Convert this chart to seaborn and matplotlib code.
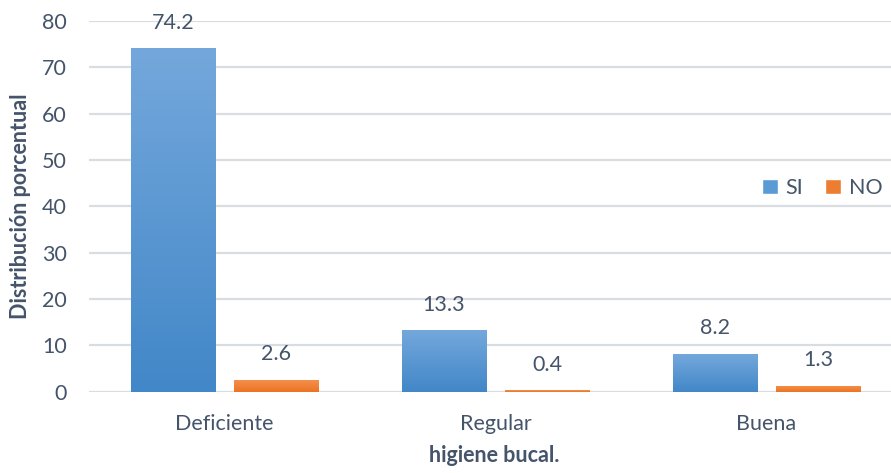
import numpy as np
import pandas as pd
import matplotlib
matplotlib.use("Agg")
import matplotlib.pyplot as plt
import matplotlib.colors as mcolors
import seaborn as sns

# Values per hygiene category
categorias = ["Deficiente", "Regular", "Buena"]
si_valores = [74.2, 13.3, 8.2]
no_valores = [2.6, 0.4, 1.3]
series = ["SI", "NO"]
y_ticks = [0, 10, 20, 30, 40, 50, 60, 70, 80]

df = pd.DataFrame({
    "categoria": categorias * 2,
    "valor": si_valores + no_valores,
    "serie": ["SI"] * 3 + ["NO"] * 3,
})

sns.set_theme(style="white")
plt.rcParams["font.family"] = ["Lato", "DejaVu Sans"]

TXT = "#44546A"
GRID = "#D9DCE1"
FS = 15.5
colores = {"SI": "#5B9BD5", "NO": "#ED7D31"}
grad = {
    "SI": ("#74A8DC", "#4287C8"),
    "NO": ("#F4924F", "#EC7323"),
}

fig = plt.figure(figsize=(8.91, 4.73), dpi=100)
ax_x0, ax_x1, ax_top, ax_bot = 89, 902, 21, 391.7
ax = fig.add_axes([ax_x0 / 891, 1 - ax_bot / 473, (ax_x1 - ax_x0) / 891, (ax_bot - ax_top) / 473])

sns.barplot(data=df, x="categoria", y="valor", hue="serie", hue_order=series,
            order=categorias, palette=colores, width=0.76, gap=0.18,
            ax=ax, legend=True, saturation=1)

ax.set_xlim(-0.5, 2.5)
ax.set_ylim(0, 80)
ax.set_yticks(y_ticks)

# Vertical gradient fill for each bar, clipped to its rectangle
n = len(categorias)
for i, patch in enumerate(ax.patches[: 2 * n]):
    s = series[i // n]
    top, bot = grad[s]
    cmap = mcolors.LinearSegmentedColormap.from_list(s, [bot, top])
    x0, y0 = patch.get_x(), patch.get_y()
    w, h = patch.get_width(), patch.get_height()
    img = ax.imshow(np.linspace(0, 1, 256).reshape(-1, 1), cmap=cmap,
                    extent=(x0, x0 + w, y0, y0 + h), origin="lower",
                    aspect="auto", zorder=patch.get_zorder() + 0.1)
    img.set_clip_path(patch)
    patch.set_edgecolor("none")
    ax.text(x0 + w / 2, y0 + h + 3.3, f"{h:.1f}", ha="center", va="bottom",
            fontsize=FS, color=TXT)

ax.set_xlim(-0.5, 2.5)
ax.set_ylim(0, 80)

ax.yaxis.grid(True, color=GRID, linewidth=1.6)
ax.set_axisbelow(True)
for sp in ax.spines.values():
    sp.set_visible(False)
ax.tick_params(axis="both", length=0, labelsize=FS, labelcolor=TXT)
ax.tick_params(axis="y", pad=16)
ax.tick_params(axis="x", pad=16)

ax.set_xlabel("higiene bucal.", fontsize=FS, fontweight="bold", color=TXT, va="center")
ax.set_ylabel("Distribución porcentual", fontsize=FS, fontweight="bold", color=TXT, va="center")
aw, ah = ax_x1 - ax_x0, ax_bot - ax_top
ax.xaxis.set_label_coords((494 - ax_x0) / aw, -(455 - ax_bot) / ah)
ax.yaxis.set_label_coords(-(ax_x0 - 21) / aw, 0.5)

leg = ax.legend(title=None, frameon=False, ncol=2, loc="center",
                bbox_to_anchor=((822 - ax_x0) / aw, (ax_bot - 188) / ah),
                fontsize=FS, handlelength=0.75, handleheight=0.75,
                handletextpad=0.35, columnspacing=1.0)
for t in leg.get_texts():
    t.set_color(TXT)

fig.savefig("out.png", dpi=100)
